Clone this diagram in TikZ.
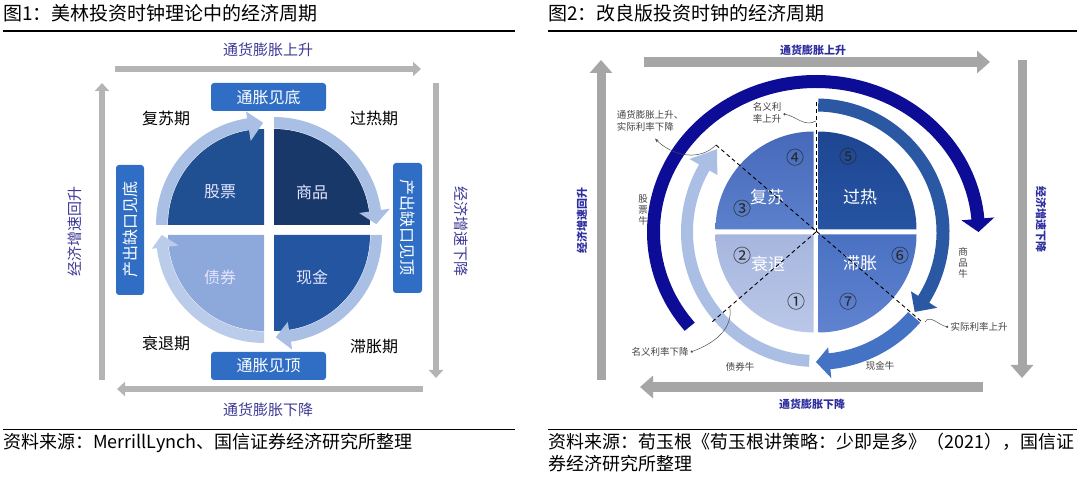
\documentclass[tikz,border=0pt]{standalone}
\usepackage{fontspec}
\setmainfont{Noto Sans CJK SC}
\usetikzlibrary{positioning,calc,arrows.meta}

\definecolor{axisgray}{RGB}{180,180,180}
\definecolor{axisgrayb}{RGB}{166,166,166}
\definecolor{labelblue}{RGB}{62,58,150}
\definecolor{labelblueb}{RGB}{46,46,158}
\definecolor{boxblue}{RGB}{47,110,196}
\definecolor{ringblue}{RGB}{169,192,228}
\definecolor{ringpale}{RGB}{186,204,234}
\definecolor{stockblue}{RGB}{32,80,146}
\definecolor{goodsblue}{RGB}{24,56,106}
\definecolor{bondblue}{RGB}{141,168,218}
\definecolor{cashblue}{RGB}{35,85,160}
\definecolor{navyarc}{RGB}{12,12,150}
\definecolor{goodsarc}{RGB}{43,88,163}
\definecolor{casharc}{RGB}{68,114,196}
\definecolor{stockarc}{RGB}{171,190,227}

% ring arrow: start, base, tip angle, inner r, outer r, head inner r, head outer r
\newcommand{\ringarc}[7]{%
  (#1:#5) arc[start angle=#1,end angle=#2,radius=#5] -- (#2:#7) -- (#3:{(#4+#5)/2})
  -- (#2:#6) -- (#2:#4) arc[start angle=#2,end angle=#1,radius=#4] -- cycle}

\begin{document}
\begin{tikzpicture}[x=1pt,y=1pt,
  axisA/.style={line width=6.5pt,draw=axisgray,-{Triangle[length=8pt,width=14pt]}},
  axisB/.style={line width=10pt,draw=axisgrayb,-{Triangle[length=13pt,width=22pt]}},
  ttl/.style={font=\fontsize{19}{23}\selectfont,inner sep=0pt},
  srcnote/.style={font=\fontsize{18}{22}\selectfont,inner sep=0pt},
  axlblA/.style={font=\fontsize{15}{18}\selectfont,text=labelblue},
  phase/.style={font=\fontsize{16}{19}\selectfont},
  box/.style={fill=boxblue,rounded corners=3pt,text=white,inner sep=0pt,font=\fontsize{16}{19}\selectfont},
  asset/.style={text=white!90!blue,font=\fontsize{16}{19}\selectfont},
  axlblB/.style={font=\bfseries\fontsize{11}{13}\selectfont,text=labelblueb},
  note/.style={font=\fontsize{9.5}{12}\selectfont,text=black!75,align=left,inner sep=0pt},
  stack/.style={font=\fontsize{9.5}{11}\selectfont,text=black!75,align=center,inner sep=0pt},
  num/.style={font=\fontsize{18}{20}\selectfont,text=black!85,inner sep=0pt},
  stage/.style={text=white,font=\fontsize{17}{20}\selectfont},
  guide/.style={line width=0.9pt,dash pattern=on 4pt off 3pt},
  lead/.style={line width=0.5pt,draw=black!70},
]
\useasboundingbox (0,0) rectangle (1080,477);

% ================= figure 1 =================
\node[ttl,anchor=base west] (titleA) at (3,456) {图1：美林投资时钟理论中的经济周期};
\coordinate (ruleA1) at (3,446); \coordinate (ruleA2) at (515,446);
\draw[line width=1.2pt] (ruleA1) -- (ruleA2);

% gray axes
\coordinate (ta1) at (115,408); \coordinate (ta2) at (421,408);
\coordinate (la1) at (102,97);  \coordinate (la2) at (102,394);
\coordinate (ra1) at (436,394); \coordinate (ra2) at (436,99);
\coordinate (ba1) at (423,88);  \coordinate (ba2) at (117,88);
\draw[axisA] (ta1) -- (ta2);
\draw[axisA] (la1) -- (la2);
\draw[axisA] (ra1) -- (ra2);
\draw[axisA] (ba1) -- (ba2);
\node[axlblA] (infupA) at (268,427) {通货膨胀上升};
\node[axlblA] (infdnA) at (268,67) {通货膨胀下降};
\node[axlblA,rotate=90] (gdpupA) at (75,245) {经济增速回升};
\node[axlblA,rotate=-90] (gdpdnA) at (461,245) {经济增速下降};

% quadrants with ring arrows
\begin{scope}[shift={(264,252)}]
  \fill[stockblue] (0,0) -- (180:96) arc[start angle=180,end angle=90,radius=96] -- cycle;
  \fill[ringblue] \ringarc{180}{99}{90.5}{96.5}{108}{85}{115};
\end{scope}
\begin{scope}[shift={(274,252)}]
  \fill[goodsblue] (0,0) -- (90:96) arc[start angle=90,end angle=0,radius=96] -- cycle;
  \fill[ringblue] \ringarc{90}{8}{0.5}{96.5}{108}{86}{117};
\end{scope}
\begin{scope}[shift={(274,242)}]
  \fill[cashblue] (0,0) -- (0:96) arc[start angle=0,end angle=-90,radius=96] -- cycle;
  \fill[ringblue] \ringarc{0}{-81}{-89}{96.5}{108}{88}{116};
\end{scope}
\begin{scope}[shift={(264,242)}]
  \fill[bondblue] (0,0) -- (270:96) arc[start angle=270,end angle=180,radius=96] -- cycle;
  \fill[ringpale] \ringarc{270}{187}{180}{96.5}{108}{86}{113};
\end{scope}
\node[asset] (stock) at (220,285) {股票};
\node[asset] (goods) at (312,285) {商品};
\node[asset] (bond) at (220,200) {债券};
\node[asset] (cash) at (312,200) {现金};

% turning-point boxes
\node[box,minimum width=115pt,minimum height=28pt] (infbot) at (268.5,380) {通胀见底};
\node[box,minimum width=115pt,minimum height=28pt] (inftop) at (268.5,111) {通胀见顶};
\node[box,rotate=90,minimum width=130pt,minimum height=28pt] (gapbot) at (130,247) {产出缺口见底};
\node[box,rotate=-90,minimum width=130pt,minimum height=29pt] (gaptop) at (407.5,249) {产出缺口见顶};

% phases
\node[phase] (recovA) at (166,359) {复苏期};
\node[phase] (heatA) at (374,359) {过热期};
\node[phase] (recessA) at (166,134) {衰退期};
\node[phase] (stagA) at (374,130) {滞胀期};

\coordinate (srcA1) at (3,48); \coordinate (srcA2) at (515,48);
\draw[line width=0.8pt] (srcA1) -- (srcA2);
\node[srcnote,anchor=base west] (srcA) at (3,28) {资料来源：MerrillLynch、国信证券经济研究所整理};

% ================= figure 2 =================
\node[ttl,anchor=base west] (titleB) at (548,456) {图2：改良版投资时钟的经济周期};
\coordinate (ruleB1) at (548,446); \coordinate (ruleB2) at (1077,446);
\draw[line width=1.2pt] (ruleB1) -- (ruleB2);

% gray axes
\coordinate (tb1) at (644,415); \coordinate (tb2) at (990,415);
\coordinate (lb1) at (601,97);  \coordinate (lb2) at (601,417);
\coordinate (rb1) at (1022,417); \coordinate (rb2) at (1022,99);
\coordinate (bb1) at (983,90);  \coordinate (bb2) at (640,90);
\draw[axisB] (tb1) -- (tb2);
\draw[axisB,line width=9pt] (lb1) -- (lb2);
\draw[axisB,line width=9pt] (rb1) -- (rb2);
\draw[axisB] (bb1) -- (bb2);
\node[axlblB] (infupB) at (813,427) {通货膨胀上升};
\node[axlblB] (infdnB) at (812,73) {通货膨胀下降};
\node[axlblB,rotate=90] (gdpupB) at (582,256) {经济增速回升};
\node[axlblB,rotate=-90] (gdpdnB) at (1041,257) {经济增速下降};

\coordinate (C) at (816,245);

% four stages
\shade[top color={rgb,255:red,70;green,105;blue,186},bottom color={rgb,255:red,92;green,128;blue,203}]
  (813.5,247.5) -- ++(180:98) arc[start angle=180,end angle=90,radius=98] -- cycle;
\shade[top color={rgb,255:red,30;green,70;blue,146},bottom color={rgb,255:red,38;green,84;blue,162}]
  (818.5,247.5) -- ++(90:98) arc[start angle=90,end angle=0,radius=98] -- cycle;
\shade[top color={rgb,255:red,166;green,182;blue,222},bottom color={rgb,255:red,186;green,199;blue,232}]
  (813.5,242.5) -- ++(270:98) arc[start angle=270,end angle=180,radius=98] -- cycle;
\shade[top color={rgb,255:red,74;green,113;blue,195},bottom color={rgb,255:red,96;green,131;blue,207}]
  (818.5,242.5) -- ++(0:98) arc[start angle=0,end angle=-90,radius=98] -- cycle;

\node[stage] (recov) at (767,280) {复苏};
\node[stage] (heat) at (860,280) {过热};
\node[stage] (recess) at (768,213) {衰退};
\node[stage] (stag) at (860,214) {滞胀};
\node[num] (n4) at (795,319) {④};
\node[num] (n3) at (742,268) {③};
\node[num] (n2) at (742,221) {②};
\node[num] (n1) at (796,175) {①};
\node[num] (n5) at (848,320) {⑤};
\node[num] (n6) at (900,221) {⑥};
\node[num] (n7) at (848,175) {⑦};

% big cycle arrows
\fill[navyarc] ($(C)+(219:169 and 157)$) arc[start angle=219,end angle=5,x radius=169,y radius=157]
  -- ($(C)+(5:179 and 167)$) -- ($(C)+(0:162.5 and 150.5)$) -- ($(C)+(5:146 and 134)$)
  -- ($(C)+(5:156 and 144)$) arc[start angle=5,end angle=219,x radius=156,y radius=144] -- cycle;
\begin{scope}[shift={(C)}]
  \fill[goodsarc] \ringarc{89}{-32}{-39}{120.5}{133.5}{112}{143};
  \fill[casharc] \ringarc{-41}{-84}{-90}{122}{138}{116}{147};
  \fill[stockarc] \ringarc{267}{150}{140}{123}{135}{114}{146};
\end{scope}

% dashed guides
\coordinate (vtop) at (816,375);
\coordinate (nw) at (716,332);
\coordinate (se) at (922,155);
\coordinate (sw) at (712,155);
\draw[guide] (C) -- (vtop);
\draw[guide] (nw) -- (se);
\draw[guide] (C) -- (sw);

% notes
\node[note] (noteA) at (650,356) {通货膨胀上升、\\实际利率下降};
\node[note] (noteB) at (767,364) {名义利\\率上升};
\node[note] (noteC) at (979,150) {实际利率上升};
\node[note] (noteD) at (660,125) {名义利率下降};
\node[stack] (stockbull) at (643,267) {股\\票\\牛};
\node[stack] (goodsbull) at (963,214) {商\\品\\牛};
\node[note] (bondbull) at (740,110) {债券牛};
\node[note] (cashbull) at (880,111) {现金牛};

\coordinate (pB) at (816,356);
\coordinate (pD) at ($(C)!0.83!(sw)$);
\draw[lead,-{Stealth[length=4pt,width=3pt]}] (nw) to[out=225,in=-45] ([xshift=5pt,yshift=-7pt]noteA.south);
\draw[lead,-{Circle[length=2.2pt]}] (pB) to[out=210,in=-10] ([xshift=2pt,yshift=-1pt]noteB.east);
\draw[lead,-{Circle[length=2.2pt]}] ([xshift=3pt]se) to[out=60,in=170] ([xshift=-2pt]noteC.west);
\draw[lead,-{Circle[length=2.2pt]}] (pD) to[out=-80,in=20] ([xshift=2pt]noteD.east);

\coordinate (srcB1) at (548,48); \coordinate (srcB2) at (1077,48);
\draw[line width=0.8pt] (srcB1) -- (srcB2);
\node[srcnote,anchor=base west] (srcB) at (548,28) {资料来源：荀玉根《荀玉根讲策略：少即是多》（2021），国信证};
\node[srcnote,anchor=base west] (srcBb) at (548,6) {券经济研究所整理};
\end{tikzpicture}
\end{document}
